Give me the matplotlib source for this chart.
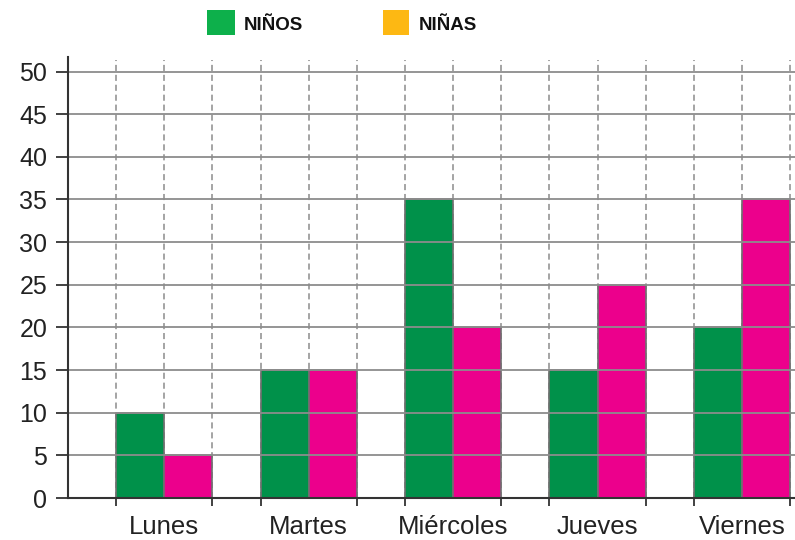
import matplotlib
matplotlib.use("Agg")
import matplotlib.pyplot as plt
from matplotlib.patches import Rectangle
import numpy as np

dias = ["Lunes", "Martes", "Miércoles", "Jueves", "Viernes"]
ninos = [10, 15, 35, 15, 20]
ninas = [5, 15, 20, 25, 35]
yticks = [0, 5, 10, 15, 20, 25, 30, 35, 40, 45, 50]
legend_labels = ["NIÑOS", "NIÑAS"]

plt.rcParams['font.family'] = ['Liberation Sans', 'DejaVu Sans']

c_nino = "#00914A"
c_nina = "#EC008C"
c_leg = ["#0DB04B", "#FDB813"]
gridc = "#8C8C8C"

fig = plt.figure(figsize=(7.95, 5.4), dpi=100)
ax = fig.add_axes([68/795, 42/540, (795-68)/795, (498-57)/540])

n = len(dias)
centers = np.arange(n) * 3 + 2
ax.set_xlim(0, 15.1)
ax.set_ylim(0, 51.7)

# vertical dashed grid
for xv in np.arange(1, 3 * n + 1):
    ax.plot([xv, xv], [0, 51.4], color=gridc, lw=1.1, ls=(0, (4, 2.5)), zorder=1)

ax.bar(centers - 0.5, ninos, width=1.0, color=c_nino, edgecolor="#707070", lw=1.2, zorder=2)
ax.bar(centers + 0.5, ninas, width=1.0, color=c_nina, edgecolor="#707070", lw=1.2, zorder=2)

# horizontal grid on top of bars
for yv in yticks[1:]:
    ax.axhline(yv, color=gridc, lw=1.3, zorder=3)

for s in ["top", "right"]:
    ax.spines[s].set_visible(False)
for s in ["left", "bottom"]:
    ax.spines[s].set_color("#333333")
    ax.spines[s].set_linewidth(1.5)
    ax.spines[s].set_zorder(4)

ax.set_yticks(yticks)
ax.set_yticklabels([str(v) for v in yticks], fontsize=18, color="#222222")
ax.tick_params(axis="y", length=9, width=1.3, color="#333333", pad=6)

ax.set_xticks(centers)
ax.set_xticklabels(dias, fontsize=18.5, color="#222222")
ax.tick_params(axis="x", which="major", length=0, pad=12)
minor = []
for c in centers:
    minor += [c - 1, c + 1]
ax.set_xticks(minor, minor=True)
ax.tick_params(axis="x", which="minor", length=6, width=1.3, color="#333333", direction="out")

# legend
fig.patches.append(Rectangle((207/795, 1 - 35/540), 28/795, 25/540,
                             transform=fig.transFigure, facecolor=c_leg[0], edgecolor="none"))
fig.patches.append(Rectangle((383/795, 1 - 35/540), 26/795, 25/540,
                             transform=fig.transFigure, facecolor=c_leg[1], edgecolor="none"))
fig.text(244/795, 1 - 25/540, legend_labels[0], fontsize=13.5, fontweight="bold",
         va="center", ha="left", color="#111111")
fig.text(419/795, 1 - 25/540, legend_labels[1], fontsize=13.5, fontweight="bold",
         va="center", ha="left", color="#111111")

fig.savefig("out.png", dpi=100)
